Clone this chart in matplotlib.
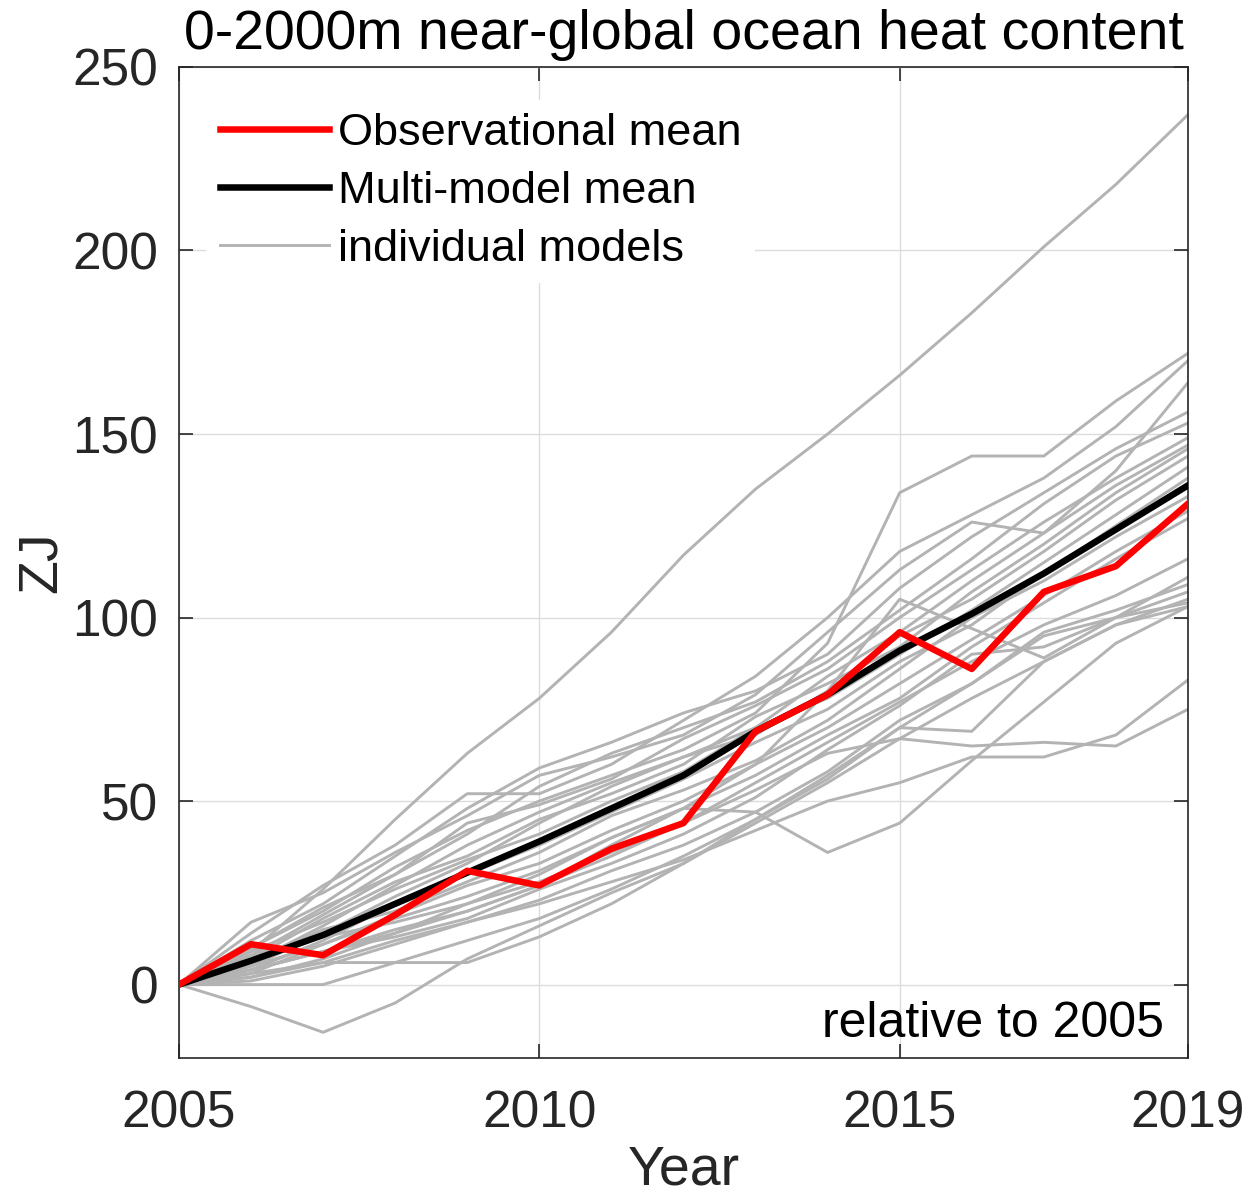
import matplotlib
matplotlib.use("Agg")
import matplotlib.pyplot as plt
from matplotlib.lines import Line2D

plt.rcParams['font.family'] = ['Liberation Sans', 'DejaVu Sans']

years = list(range(2005, 2020))

obs_mean = [0, 11, 8, 19, 31, 27, 37, 44, 69, 79, 96, 86, 107, 114, 131]
model_mean = [0, 6.5, 13.5, 22, 30.5, 39, 48, 57, 69, 79, 91, 101, 112, 124, 136]

m01 = [0, 9, 26, 45, 63, 78, 96, 117, 135, 150, 166, 183, 201, 218, 237]
m02 = [0, 10, 20, 32, 42, 50, 57, 64, 74, 93, 134, 144, 144, 159, 172]
m03 = [0, 14, 27, 38, 52, 52, 60, 72, 84, 100, 118, 128, 138, 152, 170]
m04 = [0, 17, 25, 36, 46, 57, 62, 68, 79, 96, 113, 126, 123, 140, 164]
m05 = [0, 12, 22, 35, 48, 59, 66, 74, 80, 90, 108, 122, 134, 146, 156]
m06 = [0, 8, 19, 30, 41, 54, 63, 70, 77, 88, 102, 116, 131, 144, 153]
m07 = [0, 10, 21, 30, 44, 49, 56, 67, 76, 86, 100, 113, 126, 138, 149]
m08 = [0, 6, 16, 27, 38, 47, 55, 62, 70, 84, 96, 110, 123, 136, 147]
m09 = [0, 7, 18, 28, 35, 45, 52, 60, 73, 82, 92, 107, 120, 134, 146]
m10 = [0, 5, 14, 24, 33, 44, 54, 62, 68, 80, 95, 105, 118, 132, 144]
m11 = [0, 9, 17, 26, 34, 41, 50, 58, 70, 78, 90, 102, 115, 128, 141]
m12 = [0, 4, 12, 22, 30, 38, 47, 56, 66, 75, 88, 98, 112, 125, 138]
m13 = [0, 6, 15, 20, 28, 36, 46, 53, 61, 72, 86, 100, 110, 122, 133]
m14 = [0, 3, 11, 19, 27, 33, 42, 50, 60, 70, 82, 94, 106, 118, 129]
m15 = [0, 8, 13, 17, 22, 30, 40, 48, 57, 68, 78, 92, 104, 116, 127]
m16 = [0, 2, 7, 14, 22, 28, 36, 44, 55, 66, 77, 88, 98, 106, 116]
m17 = [0, 4, 9, 13, 18, 26, 33, 41, 51, 64, 76, 90, 92, 100, 111]
m18 = [0, 1, 5, 11, 17, 23, 31, 38, 47, 58, 72, 82, 96, 102, 109]
m19 = [0, 5, 11, 18, 24, 31, 40, 48, 60, 80, 105, 97, 89, 100, 104]
m20 = [0, 0, 0, 6, 12, 18, 26, 35, 45, 56, 70, 82, 95, 100, 107]
m21 = [0, -6, -13, -5, 7, 16, 25, 33, 44, 55, 67, 78, 88, 98, 105]
m22 = [0, 3, 6, 6, 6, 13, 22, 33, 45, 57, 70, 69, 88, 98, 103]
m23 = [0, 4, 9, 14, 20, 27, 38, 48, 47, 36, 44, 61, 77, 93, 103]
m24 = [0, 4, 9, 15, 20, 27, 35, 44, 53, 63, 67, 65, 66, 65, 75]
m25 = [0, 2, 6, 12, 17, 22, 28, 34, 42, 50, 55, 62, 62, 68, 83]

models = [m01, m02, m03, m04, m05, m06, m07, m08, m09, m10, m11, m12, m13,
          m14, m15, m16, m17, m18, m19, m20, m21, m22, m23, m24, m25]

xticks = [2005, 2010, 2015, 2019]
yticks = [0, 50, 100, 150, 200, 250]

fig = plt.figure(figsize=(12.55, 12.02), dpi=100)
ax = fig.add_axes([0.1426, 0.1198, 0.9466 - 0.1426, 0.9443 - 0.1198])

gray = '#b3b3b3'
for m in models:
    ax.plot(years, m, color=gray, lw=2.1, zorder=2)
ax.plot(years, model_mean, color='black', lw=4.7, zorder=3)
ax.plot(years, obs_mean, color='#ff0000', lw=4.7, zorder=4)

ax.set_xlim(2005, 2019)
ax.set_ylim(-20, 250)
ax.set_xticks(xticks)
ax.set_yticks(yticks)
ax.grid(True, color='#dcdcdc', lw=1.0, zorder=0)
ax.set_axisbelow(True)
ax.tick_params(direction='in', length=10, width=1.2, top=True, right=True,
               labelsize=37, colors='#262626')
ax.tick_params(axis='x', pad=23)
ax.tick_params(axis='y', pad=15)
for s in ax.spines.values():
    s.set_color('#262626')
    s.set_linewidth(1.2)

ax.set_title('0-2000m near-global ocean heat content', fontsize=40, color='black', pad=13)
ax.set_xlabel('Year', fontsize=40, color='#262626', labelpad=4)
ax.set_ylabel('ZJ', fontsize=40, color='#262626', labelpad=3)

ax.text(0.976, 0.021, 'relative to 2005', transform=ax.transAxes,
        ha='right', va='baseline', fontsize=36, color='black', zorder=6)

handles = [Line2D([], [], color='#ff0000', lw=4.7),
           Line2D([], [], color='black', lw=4.7),
           Line2D([], [], color=gray, lw=2.1)]
labels = ['Observational mean', 'Multi-model mean', 'individual models']
leg = ax.legend(handles, labels, loc='upper left', bbox_to_anchor=(0.027, 0.967),
                fontsize=32.5, frameon=True, handlelength=2.43, handletextpad=0.18,
                labelspacing=0.37, borderpad=0.3, borderaxespad=0)
leg.get_frame().set_edgecolor('none')
leg.get_frame().set_facecolor('white')
leg.get_frame().set_alpha(1.0)
leg.set_zorder(5)

fig.savefig('out.png', dpi=100)
